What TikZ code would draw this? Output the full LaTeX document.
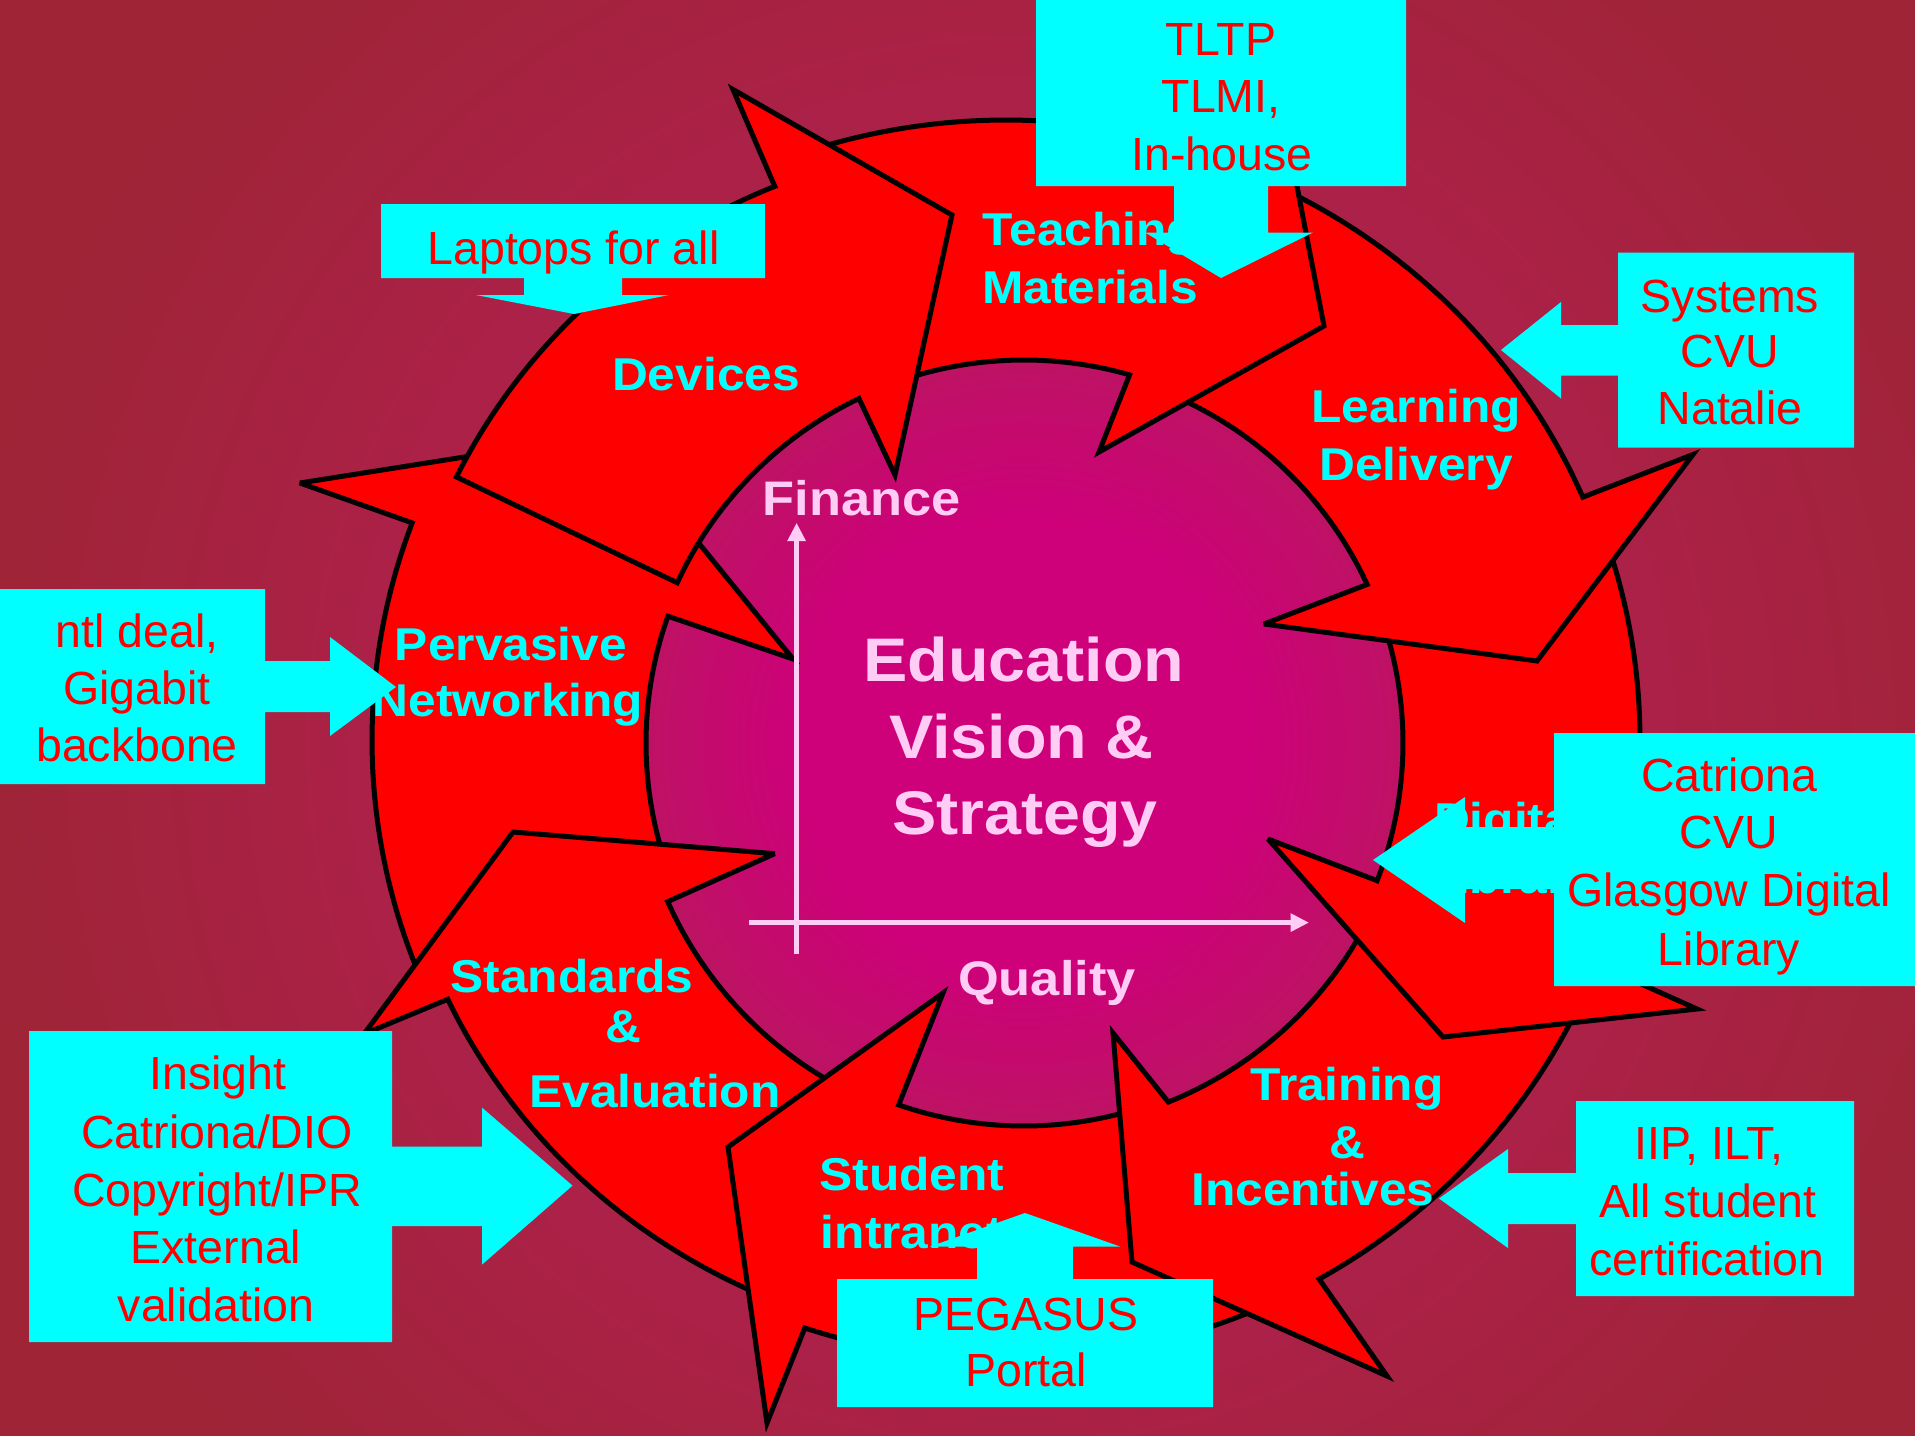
\documentclass[tikz,border=0pt]{standalone}
\usepackage{fontspec}
\usetikzlibrary{arrows.meta,calc}
\newfontfamily\calfont{Liberation Sans}
\newfontfamily\lblfont[FakeStretch=1.08]{Liberation Sans}
\definecolor{bgc}{RGB}{158,36,54}
\definecolor{glowc}{RGB}{186,28,88}
\definecolor{midc}{RGB}{172,33,72}
\definecolor{diskin}{RGB}{206,0,122}
\definecolor{diskout}{RGB}{188,20,98}
\definecolor{arrowred}{RGB}{255,0,0}
\definecolor{cyanc}{RGB}{0,255,255}
\definecolor{calred}{RGB}{255,0,0}
\definecolor{pinkc}{RGB}{255,204,245}
\pgfdeclareradialshading{bgglow}{\pgfpointorigin}{color(0bp)=(glowc); color(15bp)=(midc); color(25bp)=(bgc); color(50bp)=(bgc)}
\pgfdeclareradialshading{diskshade}{\pgfpointorigin}{color(0bp)=(diskin); color(14bp)=(diskin); color(25bp)=(diskout); color(50bp)=(diskout)}
\tikzset{
  arrowshape/.style={fill=arrowred, draw=black, line width=2pt, line join=miter, miter limit=4},
  callshape/.style={fill=cyanc},
  caltext/.style={text=calred, font=\calfont\fontsize{18.6pt}{22.8pt}\selectfont, anchor=base, inner sep=0pt},
  lbl/.style={text=cyanc, font=\lblfont\bfseries\fontsize{18.4pt}{23pt}\selectfont, anchor=base, inner sep=0pt},
  ctr/.style={text=pinkc, font=\lblfont\bfseries\fontsize{24.6pt}{30.8pt}\selectfont, anchor=base, inner sep=0pt},
  axlbl/.style={text=pinkc, font=\lblfont\bfseries\fontsize{19.4pt}{23pt}\selectfont, anchor=base, inner sep=0pt},
  axisline/.style={draw=pinkc, line width=2.3pt, -{Triangle[length=7.4pt,width=7pt]}}
}
\begin{document}
\begin{tikzpicture}[x=0.4pt,y=-0.4pt]
\path[use as bounding box] (0,0) rectangle (1915,1435);
\begin{scope}
\clip (-10,-10) rectangle (1925,1445);
\fill[bgc] (-10,-10) rectangle (1925,1445);
\shade[shading=bgglow] (1010,740) circle[radius=1050];
\coordinate (ci) at (1024,743);
\coordinate (co) at (1006,740);
\shade[shading=diskshade] (ci) circle[radius=395];

% ring of arrows (drawn bottom to top)
% Pervasive Networking
\draw[arrowshape] ($(ci)+(160.7:378)$) arc[start angle=160.7, end angle=199.6, radius=378]
  -- (793,659) -- (610,434) -- (300,483)
  -- ($(co)+(200.5:634 and 620)$) arc[start angle=200.5, end angle=157.5, x radius=634, y radius=620] -- cycle;
% Standards & Evaluation
\draw[arrowshape] ($(ci)+(112.8:390)$) arc[start angle=112.8, end angle=156, radius=390]
  -- (774.6,853.7) -- (513,832) -- (364,1034)
  -- ($(co)+(154.6:618 and 604.5)$) arc[start angle=154.6, end angle=110.7, x radius=618, y radius=604.5] -- cycle;
% Student intranet
\draw[arrowshape] ($(ci)+(70.8:383)$) arc[start angle=70.8, end angle=109.1, radius=383]
  -- (943,993) -- (728,1147) -- (767,1423)
  -- ($(co)+(108.5:634 and 620)$) arc[start angle=108.5, end angle=62.7, x radius=634, y radius=620] -- cycle;
% Training & Incentives
\draw[arrowshape] ($(ci)+(27.8:387)$) arc[start angle=27.8, end angle=68.1, radius=387]
  -- (1113,1033) -- (1132,1262) -- (1387,1376)
  -- ($(co)+(60.4:634 and 620)$) arc[start angle=60.4, end angle=25.1, x radius=634, y radius=620] -- cycle;
% Digital Library
\draw[arrowshape] ($(ci)+(-18.6:379)$) arc[start angle=-18.6, end angle=21.3, radius=379]
  -- (1268,839) -- (1443,1037) -- (1697,1009)
  -- ($(co)+(21.2:634 and 620)$) arc[start angle=21.2, end angle=-19.9, x radius=634, y radius=620] -- cycle;
% Learning Delivery
\draw[arrowshape] ($(ci)+(-68.1:378)$) arc[start angle=-68.1, end angle=-24.8, radius=378]
  -- (1264,624) -- (1537,661) -- (1693,454.5)
  -- ($(co)+(-23.3:628 and 614)$) arc[start angle=-23.3, end angle=-64.5, x radius=628, y radius=614] -- cycle;
% Teaching Materials
\draw[arrowshape] ($(ci)+(-111.9:383)$) arc[start angle=-111.9, end angle=-74, radius=383]
  -- (1099,452) -- (1324,326) -- (1290,150)
  -- ($(co)+(-70.4:634 and 620)$) arc[start angle=-70.4, end angle=-109.3, x radius=634, y radius=620] -- cycle;
% Devices
\draw[arrowshape] ($(ci)+(-155.2:382)$) arc[start angle=-155.2, end angle=-115.6, radius=382]
  -- (895,475) -- (952,215) -- (733,89.5)
  -- ($(co)+(-112.2:612 and 598)$) arc[start angle=-112.2, end angle=-153.9, x radius=612, y radius=598] -- cycle;

% arrow labels
\node[lbl] (lDev) at (706,390) {Devices};
\node[lbl] (lTea1) at (1090,245.6) {Teaching};
\node[lbl] (lTea2) at (1090,303) {Materials};
\node[lbl] (lLea1) at (1416,422) {Learning};
\node[lbl] (lLea2) at (1416,480) {Delivery};
\node[lbl] (lDig1) at (1510,835) {Digital};
\node[lbl] (lDig2) at (1510,893) {Library};
\node[lbl] (lTra1) at (1347,1100.7) {Training};
\node[lbl] (lTra2) at (1347,1158) {\&};
\node[lbl] (lTra3) at (1313,1205.4) {Incentives};
\node[lbl] (lStu1) at (912,1190.7) {Student};
\node[lbl] (lStu2) at (912,1248.3) {intranet};
\node[lbl] (lSta1) at (572,992.8) {Standards};
\node[lbl] (lSta2) at (623,1042) {\&};
\node[lbl] (lSta3) at (655,1107.6) {Evaluation};
\node[lbl] (lPer1) at (511,660) {Pervasive};
\node[lbl] (lPer2) at (508,716.7) {Networking};

% centre
\node[ctr] (c1) at (1024,681.5) {Education};
\node[ctr] (c2) at (1021.5,758) {Vision \&};
\node[ctr] (c3) at (1025,834.6) {Strategy};
\node[axlbl] (fin) at (861.6,515) {Finance};
\node[axlbl] (qual) at (1047,995) {Quality};
\coordinate (vbot) at (796.6,954.4);
\coordinate (vtop) at (796.6,522.7);
\coordinate (hleft) at (749,922.6);
\coordinate (hright) at (1309,922.6);
\draw[axisline] (vbot) -- (vtop);
\draw[axisline] (hleft) -- (hright);

% callouts
\fill[callshape] (381,204) -- (765,204) -- (765,278) -- (622,278) -- (622,295) -- (669,295) -- (574,314) -- (476,295) -- (524,295) -- (524,278) -- (381,278) -- cycle;
\node[caltext] (tLap) at (573.5,264) {Laptops for all};

\fill[callshape] (1036,-12) -- (1406,-12) -- (1406,186) -- (1268,186) -- (1268,232.5) -- (1313,232.5) -- (1221,278) -- (1145,232.5) -- (1174,232.5) -- (1174,186) -- (1036,186) -- cycle;
\node[caltext] (tTl1) at (1221,55) {TLTP};
\node[caltext] (tTl2) at (1221,112.5) {TLMI,};
\node[caltext] (tTl3) at (1222,170) {In-house};

\fill[callshape] (1618,252.5) -- (1854,252.5) -- (1854,447.6) -- (1618,447.6) -- (1618,375.6) -- (1561,375.6) -- (1561,398.5) -- (1501,350) -- (1561,302) -- (1561,325) -- (1618,325) -- cycle;
\node[caltext] (tSy1) at (1730,312.2) {Systems};
\node[caltext] (tSy2) at (1730,367.3) {CVU};
\node[caltext] (tSy3) at (1730,424.7) {Natalie};

\fill[callshape] (-12,589) -- (265,589) -- (265,661) -- (330,661) -- (330,637) -- (396,687) -- (330,736) -- (330,712) -- (265,712) -- (265,784) -- (-12,784) -- cycle;
\node[caltext] (tNt1) at (137,647) {ntl deal,};
\node[caltext] (tNt2) at (137,704) {Gigabit};
\node[caltext] (tNt3) at (137,761) {backbone};

\fill[callshape] (1554,733) -- (1927,733) -- (1927,986) -- (1554,986) -- (1554,889) -- (1465,889) -- (1465,923) -- (1373,860) -- (1465,797) -- (1465,827) -- (1554,827) -- cycle;
\node[caltext] (tCa1) at (1729,791.7) {Catriona};
\node[caltext] (tCa2) at (1729,848) {CVU};
\node[caltext] (tCa3) at (1729,906.7) {Glasgow Digital};
\node[caltext] (tCa4) at (1729,965) {Library};

\fill[callshape] (1576,1101) -- (1854,1101) -- (1854,1296) -- (1576,1296) -- (1576,1224) -- (1508,1224) -- (1508,1248) -- (1439,1198.5) -- (1508,1149) -- (1508,1173) -- (1576,1173) -- cycle;
\node[caltext] (tII1) at (1709,1159.5) {IIP, ILT,};
\node[caltext] (tII2) at (1708,1217.7) {All student};
\node[caltext] (tII3) at (1707,1275) {certification};

\fill[callshape] (837,1279) -- (977,1279) -- (977,1246.5) -- (930,1246.5) -- (1025,1213) -- (1120,1246.5) -- (1073,1246.5) -- (1073,1279) -- (1213,1279) -- (1213,1407) -- (837,1407) -- cycle;
\node[caltext] (tPe1) at (1026,1330) {PEGASUS};
\node[caltext] (tPe2) at (1026,1386.7) {Portal};

\fill[callshape] (29,1031) -- (392,1031) -- (392,1146.6) -- (482,1146.6) -- (482,1107.6) -- (572.5,1185.6) -- (482,1264.6) -- (482,1226) -- (392,1226) -- (392,1342) -- (29,1342) -- cycle;
\node[caltext] (tIn1) at (218,1089.2) {Insight};
\node[caltext] (tIn2) at (217,1148.9) {Catriona/DIO};
\node[caltext] (tIn3) at (217,1206.3) {Copyright/IPR};
\node[caltext] (tIn4) at (216,1263.7) {External};
\node[caltext] (tIn5) at (216,1321) {validation};
\end{scope}
\end{tikzpicture}
\end{document}
